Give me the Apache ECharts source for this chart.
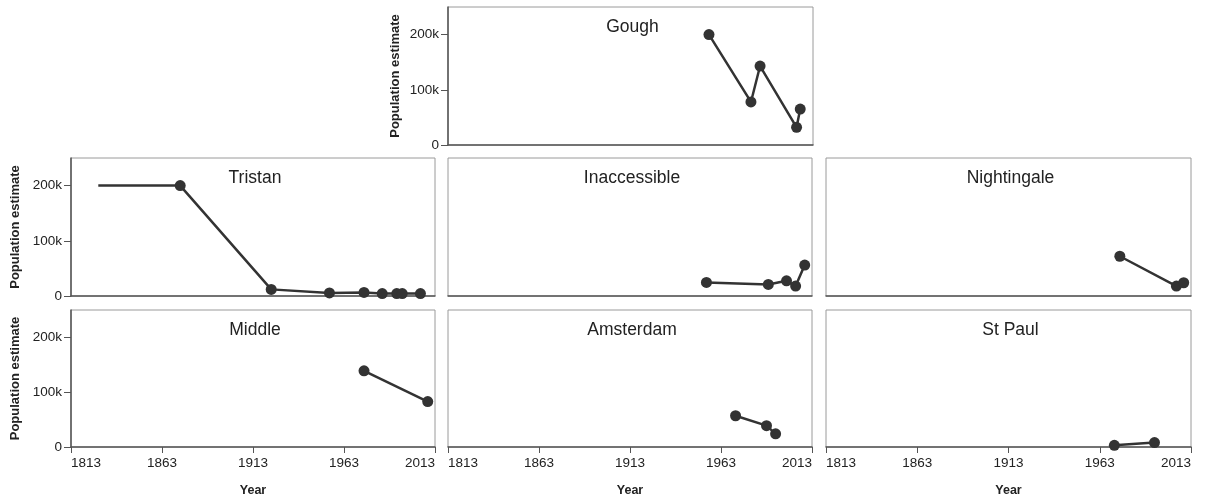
<!DOCTYPE html>
<html>
<head>
<meta charset="utf-8">
<script src="https://cdn.jsdelivr.net/npm/echarts@6/dist/echarts.min.js"></script>
<style>
  html, body { margin: 0; padding: 0; background: #fff; }
  #chart { width: 1211px; height: 500px; }
</style>
</head>
<body>
<div id="chart"></div>
<script>
// Penguin population estimates by island
const islands = ['Gough', 'Tristan', 'Inaccessible', 'Nightingale', 'Middle', 'Amsterdam', 'St Paul'];

const goughYears = [1956, 1979, 1984, 2004, 2006];
const goughValues = [200000, 78000, 143000, 32000, 65000];

const tristanYears = [1828, 1873, 1923, 1955, 1974, 1984, 1992, 1995, 2005];
const tristanValues = [200000, 200000, 12000, 5500, 6500, 4500, 4500, 4500, 4500];

const inaccessibleYears = [1955, 1989, 1999, 2004, 2009];
const inaccessibleValues = [24500, 21000, 27500, 18000, 56000];

const nightingaleYears = [1974, 2005, 2009];
const nightingaleValues = [72000, 18000, 24000];

const middleYears = [1974, 2009];
const middleValues = [139000, 83000];

const amsterdamYears = [1971, 1988, 1993];
const amsterdamValues = [57000, 39000, 24000];

const stPaulYears = [1971, 1993];
const stPaulValues = [3000, 8000];

const yearTicks = [1813, 1863, 1913, 1963, 2013];
const popTicks = [0, 100000, 200000];

const seriesData = {
  'Gough': [goughYears, goughValues],
  'Tristan': [tristanYears, tristanValues],
  'Inaccessible': [inaccessibleYears, inaccessibleValues],
  'Nightingale': [nightingaleYears, nightingaleValues],
  'Middle': [middleYears, middleValues],
  'Amsterdam': [amsterdamYears, amsterdamValues],
  'St Paul': [stPaulYears, stPaulValues]
};

// panel layout: [left, top, width, height, showYAxis, showXLabels, yNameGap]
const panels = {
  'Gough':        [448, 7,   365, 138, true,  false, 46],
  'Tristan':      [71,  158, 364, 138, true,  false, 49],
  'Inaccessible': [448, 158, 364, 138, false, false, 0],
  'Nightingale':  [826, 158, 365, 138, false, false, 0],
  'Middle':       [71,  310, 364, 137, true,  true,  49],
  'Amsterdam':    [448, 310, 364, 137, false, true,  0],
  'St Paul':      [826, 310, 365, 137, false, true,  0]
};

const grids = [], xAxes = [], yAxes = [], series = [], titles = [];
const font = 'Liberation Sans, Arial, sans-serif';

islands.forEach((name, i) => {
  const [left, top, width, height, showY, showX, yGap] = panels[name];
  grids.push({
    left: left, top: top, width: width, height: height,
    show: true, borderColor: '#9a9a9a', borderWidth: 1, backgroundColor: '#fff'
  });
  xAxes.push({
    type: 'value', gridIndex: i, min: 1813, max: 2013,
    splitLine: { show: false },
    axisLine: { show: true, onZero: false, lineStyle: { color: '#555', width: 1.5 } },
    axisTick: { show: showX, customValues: yearTicks, length: 6, lineStyle: { color: '#555' } },
    axisLabel: {
      show: showX, customValues: yearTicks, margin: 9,
      alignMinLabel: 'left', alignMaxLabel: 'right',
      color: '#222', fontSize: 13.5, fontFamily: font,
      formatter: v => String(v)
    },
    name: showX ? 'Year' : '',
    nameLocation: 'middle', nameGap: 37,
    nameTextStyle: { fontWeight: 'bold', fontSize: 12.5, color: '#222', fontFamily: font }
  });
  yAxes.push({
    type: 'value', gridIndex: i, min: 0, max: 250000, interval: 100000,
    splitLine: { show: false },
    axisLine: { show: showY, lineStyle: { color: '#555', width: 1.5 } },
    axisTick: { show: showY, length: 7, lineStyle: { color: '#555' },
      customValues: popTicks },
    axisLabel: {
      show: showY, customValues: popTicks, margin: 9,
      color: '#222', fontSize: 13.5, fontFamily: font,
      formatter: v => v === 0 ? '0' : (v / 1000) + 'k'
    },
    name: showY ? 'Population estimate' : '',
    nameLocation: 'middle', nameGap: yGap, nameRotate: 90,
    nameTextStyle: { fontWeight: 'bold', fontSize: 13, color: '#222', fontFamily: font }
  });
  const [years, values] = seriesData[name];
  const data = years.map((y, k) => {
    const item = { value: [y, values[k]] };
    // the earliest Tristan record is drawn as a line start only
    if (name === 'Tristan' && k === 0) item.symbol = 'none';
    return item;
  });
  series.push({
    type: 'line', name: name, xAxisIndex: i, yAxisIndex: i,
    data: data, symbol: 'circle', symbolSize: 11,
    lineStyle: { color: '#333', width: 2.5 },
    itemStyle: { color: '#333' },
    animation: false, z: 3
  });
  titles.push({
    text: name, left: left + width / 2 - 3, top: top + 6, textAlign: 'center',
    textStyle: { fontSize: 17.5, fontWeight: 'normal', color: '#222', fontFamily: font }
  });
});

const chart = echarts.init(document.getElementById('chart'), null, { renderer: 'canvas' });
chart.setOption({
  animation: false,
  title: titles,
  grid: grids,
  xAxis: xAxes,
  yAxis: yAxes,
  series: series
});
</script>
</body>
</html>
